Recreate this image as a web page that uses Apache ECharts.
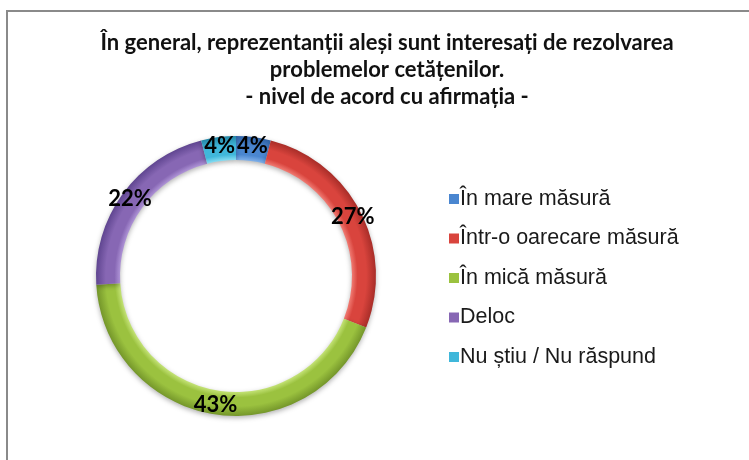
<!DOCTYPE html>
<html>
<head>
<meta charset="utf-8">
<script src="https://cdn.jsdelivr.net/npm/echarts@6/dist/echarts.min.js"></script>
<style>
  html, body { margin: 0; padding: 0; background: #fff; }
  #chart { width: 749px; height: 460px; }
</style>
</head>
<body>
<div id="chart"></div>
<script>
// date
var categorii = ['În mare măsură', 'Într-o oarecare măsură', 'În mică măsură', 'Deloc', 'Nu știu / Nu răspund'];
var procente = [4, 27, 43, 22, 4];
var culori = ['#4A86D0', '#D9443D', '#9BC23F', '#8767B4', '#40B7DA'];
var culoriDeschise = ['#7FB0EA', '#F07A72', '#C3E275', '#AE93D6', '#86DDF3'];
var culoriInchise = ['#2F62A6', '#A82D28', '#74962A', '#5F4590', '#2487A6'];

var titlu = 'În general, reprezentanții aleși sunt interesați de rezolvarea\nproblemelor cetățenilor.\n- nivel de acord cu afirmația -';

var chart = echarts.init(document.getElementById('chart'));

var cx = 236, cy = 276, rIn = 116, rOut = 140;

function gradient(i) {
  var k = rIn / rOut;
  return {
    type: 'radial', x: cx, y: cy, r: rOut, global: true,
    colorStops: [
      { offset: 0, color: culoriDeschise[i] },
      { offset: k, color: culoriDeschise[i] },
      { offset: k + 0.04, color: culori[i] },
      { offset: 0.93, color: culori[i] },
      { offset: 1, color: culoriInchise[i] }
    ]
  };
}

var date = [];
var legenda = [];
for (var i = 0; i < categorii.length; i++) {
  date.push({ name: categorii[i], value: procente[i], itemStyle: { color: gradient(i) } });
  legenda.push({ name: categorii[i], itemStyle: { color: culori[i] } });
}

var option = {
  backgroundColor: '#fff',
  animation: false,
  color: culori,
  title: {
    text: titlu,
    left: 382,
    top: 24,
    textAlign: 'center',
    textStyle: {
      fontFamily: 'Lato',
      fontWeight: 'bold',
      fontSize: 22,
      lineHeight: 27,
      color: '#111'
    }
  },
  legend: {
    orient: 'vertical',
    left: 444,
    top: 183,
    icon: 'rect',
    itemWidth: 10,
    itemHeight: 10,
    itemGap: 17.5,
    textStyle: {
      fontFamily: 'Liberation Sans',
      fontSize: 21.5,
      color: '#1a1a1a',
      padding: [0, 0, 0, -4]
    },
    data: legenda
  },
  graphic: [
    { type: 'line', shape: { x1: 7, y1: 11, x2: 749, y2: 11 }, style: { stroke: '#8a8a8a', lineWidth: 2 } },
    { type: 'line', shape: { x1: 7, y1: 10, x2: 7, y2: 460 }, style: { stroke: '#8a8a8a', lineWidth: 2 } }
  ],
  series: [{
    type: 'pie',
    center: [cx, cy],
    radius: [rIn, rOut],
    startAngle: 90,
    clockwise: true,
    avoidLabelOverlap: false,
    itemStyle: {
      borderWidth: 0,
      shadowColor: 'rgba(0,0,0,0.3)',
      shadowBlur: 5,
      shadowOffsetY: 2
    },
    label: {
      show: true,
      position: 'inside',
      formatter: '{c}%',
      fontFamily: 'Lato',
      fontWeight: 'bold',
      fontSize: 22,
      color: '#000'
    },
    labelLine: { show: false },
    emphasis: { disabled: true },
    data: date
  }]
};

chart.setOption(option);
</script>
</body>
</html>
